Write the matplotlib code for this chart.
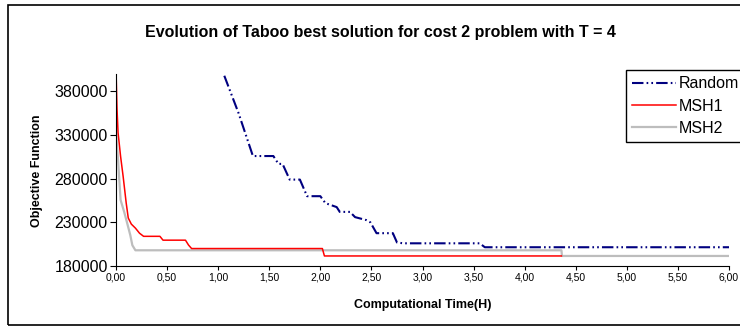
import matplotlib
matplotlib.use('Agg')
import matplotlib.pyplot as plt
from matplotlib.patches import Rectangle
from matplotlib.ticker import FuncFormatter, MultipleLocator

plt.rcParams['font.family'] = ['Liberation Sans', 'DejaVu Sans']

# Random start
random_t = [1.06, 1.20, 1.34, 1.54, 1.59, 1.63, 1.70, 1.80, 1.87, 2.00, 2.05, 2.16,
            2.19, 2.29, 2.34, 2.45, 2.49, 2.55, 2.71, 2.75, 2.81, 3.56, 3.61, 6.00]
random_v = [398000, 355000, 306000, 306000, 297000, 297000, 279000, 279000, 260000,
            260000, 252000, 247500, 242000, 242000, 236000, 232600, 230000, 217600,
            217600, 207000, 206000, 206000, 201500, 201500]

# MSH1 start
msh1_t = [0.00, 0.01, 0.02, 0.045, 0.07, 0.10, 0.12, 0.15, 0.19, 0.23, 0.27, 0.43,
          0.46, 0.68, 0.71, 0.74, 2.02, 2.04, 4.36]
msh1_v = [405000, 360000, 333000, 305500, 282500, 252000, 235000, 228000, 223400,
          217600, 214000, 214000, 209600, 209600, 204000, 200000, 200000, 191500, 191500]

# MSH2 start
msh2_t = [0.00, 0.02, 0.045, 0.08, 0.11, 0.14, 0.16, 0.19, 4.36, 4.365, 6.00]
msh2_v = [333000, 301700, 255600, 242000, 228800, 215300, 203800, 198000, 198000,
          191500, 191500]

fig = plt.figure(figsize=(7.4, 3.3), dpi=100)
# cadre du graphique (coupe a droite)
fig.patches.append(Rectangle((8 / 740, 5 / 330), 1.0, 320 / 330, transform=fig.transFigure,
                             fill=False, edgecolor='black', linewidth=1.2))

ax = fig.add_axes([116 / 740, 64 / 330, 613 / 740, 192 / 330])

l3, = ax.plot(msh2_t, msh2_v, color='#BDBDBD', linewidth=1.6, label='MSH2')
l2, = ax.plot(msh1_t, msh1_v, color='#FF0000', linewidth=1.1, label='MSH1')
l1, = ax.plot(random_t, random_v, color='#000080', linewidth=1.5, label='Random',
              dashes=(5.5, 1.5, 0.8, 1.5, 0.8, 1.5))

ax.set_xlim(0, 6)
ax.set_ylim(180000, 400000)
ax.set_yticks([180000, 230000, 280000, 330000, 380000])
ax.xaxis.set_major_locator(MultipleLocator(0.5))
ax.xaxis.set_major_formatter(FuncFormatter(lambda x, p: f"{x:.2f}".replace('.', ',')))

for s in ['top', 'right']:
    ax.spines[s].set_visible(False)
ax.tick_params(axis='y', direction='out', length=4, labelsize=11.5, pad=2)
ax.tick_params(axis='x', direction='out', length=3, labelsize=7.5, pad=2)

fig.text(380 / 740, 1 - 32 / 330, 'Evolution of Taboo best solution for cost 2 problem with T = 4',
         ha='center', va='center', fontsize=11.5, fontweight='bold')
fig.text(37 / 740, 1 - 171 / 330, 'Objective Function', rotation=90,
         ha='center', va='center', fontsize=9, fontweight='bold')
fig.text(423 / 740, 1 - 305 / 330, 'Computational Time(H)',
         ha='center', va='center', fontsize=9, fontweight='bold')

leg = fig.legend(handles=[l1, l2, l3], loc='upper left', bbox_to_anchor=(626 / 740, 1 - 70 / 330),
                 fontsize=11.5, handlelength=2.7, handletextpad=0.2, borderpad=0.4,
                 labelspacing=0.45, borderaxespad=0, fancybox=False, framealpha=1)
leg.get_frame().set_edgecolor('black')
leg.get_frame().set_linewidth(1.0)

fig.savefig('out.png', dpi=100)
